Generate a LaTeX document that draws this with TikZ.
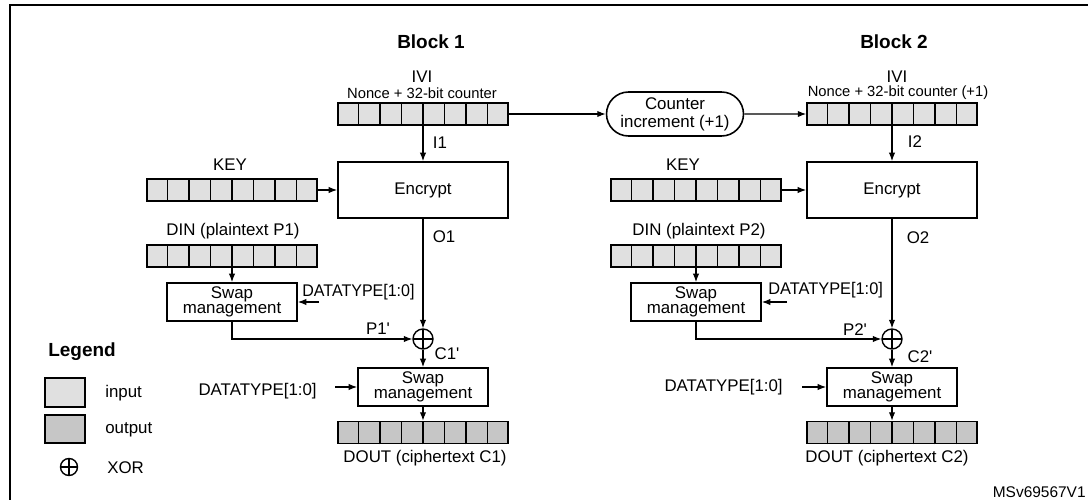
\documentclass[tikz,border=0pt]{standalone}
\usepackage{fontspec}
\setmainfont{Liberation Sans}
\usepackage{graphicx}
\usetikzlibrary{arrows.meta,calc,shapes.misc}
\definecolor{ingray}{RGB}{224,224,224}
\definecolor{outgray}{RGB}{198,198,198}
\newcommand{\dtype}[1][1]{\scalebox{#1}[1]{DATATYPE[1:0]}}

\begin{document}
\begin{tikzpicture}[x=0.02cm,y=-0.02cm,>={Latex[length=4.8pt,width=3.6pt]},
	txt/.style={inner sep=0pt,font=\fontsize{9.6}{10}\selectfont},
	small/.style={inner sep=0pt,font=\fontsize{8.4}{9}\selectfont},
	heading/.style={inner sep=0pt,font=\fontsize{10.8}{12}\selectfont\bfseries},
	reg/.style={draw,line width=0.9pt,inner sep=0pt,minimum width=3.4cm,minimum height=0.44cm},
	inreg/.style={reg,fill=ingray},
	outreg/.style={reg,fill=outgray},
	encbox/.style={draw,line width=1pt,minimum width=3.4cm,minimum height=1.12cm,txt},
	swapbox/.style={draw,line width=1pt,align=center,minimum width=2.6cm,minimum height=0.76cm,txt,font=\fontsize{9.6}{8.7}\selectfont},
	xorsym/.style={draw,circle,line width=0.8pt,inner sep=0pt,minimum size=0.4cm,
		path picture={\draw[line width=0.8pt] (path picture bounding box.north) -- (path picture bounding box.south)
			(path picture bounding box.west) -- (path picture bounding box.east);}},
	link/.style={->,line width=0.6pt}]
	\useasboundingbox (0,0) rectangle (1088,500);
	\draw[line width=1.4pt] (10,500) -- (10,5) -- (1088,5);
	
	% Block 1
	\node[heading] (blk1) at (431,42) {Block 1};
	\node[txt] (ivlab1) at (422,77) {IVI};
	\node[small] (ivsub1) at (422,93) {Nonce + 32-bit counter};
	\node[inreg] (iv1) at (423,114) {};
	\node[encbox] (enc1) at (423,190) {Encrypt};
	\node[txt] (keylab1) at (230,165) {KEY};
	\node[inreg] (key1) at (232,190) {};
	\node[txt] (dinlab1) at (233,231) {DIN (plaintext P1)};
	\node[inreg] (din1) at (232,256) {};
	\node[swapbox] (swp1) at (232,302) {Swap\\management};
	\node[txt,anchor=west] (dt1) at (302,292) {\dtype[0.95]};
	\coordinate (dt1in) at (319,302);
	\node[xorsym] (xor1) at (423,339) {};
	\node[swapbox] (swo1) at (423,387) {Swap\\management};
	\node[txt,anchor=east] (dt3) at (317,391) {\dtype};
	\coordinate (dt3in) at (335,387);
	\node[outreg] (dout1) at (423,432.5) {};
	\node[txt] (doutlab1) at (425,458) {DOUT (ciphertext C1)};
	\node[txt] (i1) at (440,143) {I1};
	\node[txt] (o1) at (444,237) {O1};
	\node[txt] (p1) at (378,329) {P1\textquotesingle};
	\node[txt] (c1) at (447,354) {C1\textquotesingle};
	
	% Counter
	\node[draw,rounded rectangle,line width=0.9pt,minimum width=2.74cm,minimum height=0.88cm,inner sep=0pt,
		align=center,font=\fontsize{9.6}{10.2}\selectfont] (cnt) at (675,114) {Counter\\increment (+1)};
	
	% Block 2
	\node[heading] (blk2) at (894,42) {Block 2};
	\node[txt] (ivlab2) at (897,77) {IVI};
	\node[small] (ivsub2) at (898,93) {Nonce + 32-bit counter (+1)};
	\node[inreg] (iv2) at (892,114) {};
	\node[encbox] (enc2) at (892,190) {Encrypt};
	\node[txt] (keylab2) at (683,165) {KEY};
	\node[inreg] (key2) at (696,190) {};
	\node[txt] (dinlab2) at (699,231) {DIN (plaintext P2)};
	\node[inreg] (din2) at (696,256) {};
	\node[swapbox] (swp2) at (696,302) {Swap\\management};
	\node[txt,anchor=west] (dt2) at (768,290) {\dtype[0.97]};
	\coordinate (dt2in) at (787,302);
	\node[xorsym] (xor2) at (892,339) {};
	\node[swapbox] (swo2) at (892,387) {Swap\\management};
	\node[txt,anchor=east] (dt4) at (783,387) {\dtype};
	\coordinate (dt4in) at (802,387);
	\node[outreg] (dout2) at (892,432.5) {};
	\node[txt] (doutlab2) at (887,458) {DOUT (ciphertext C2)};
	\node[txt] (i2) at (915,142) {I2};
	\node[txt] (o2) at (918,238) {O2};
	\node[txt] (p2) at (855,330) {P2\textquotesingle};
	\node[txt] (c2) at (920,357) {C2\textquotesingle};
	
	% Cells
	\foreach \r in {iv1,iv2,key1,key2,din1,din2,dout1,dout2}
		\foreach \i in {1,...,7}
			\draw[line width=0.9pt] ($(\r.south west)!\i/8!(\r.south east)$) -- ($(\r.north west)!\i/8!(\r.north east)$);
	
	% Connectors
	\draw[link] (iv1) -- (cnt);
	\draw[link] (cnt) -- (iv2);
	\foreach \n in {1,2} {
		\draw[link] (iv\n) -- (enc\n);
		\draw[link] (key\n) -- (enc\n);
		\draw[link] (din\n) -- (swp\n);
		\draw[link] (enc\n) -- (xor\n);
		\draw[link] (swp\n.south) |- (xor\n.west);
		\draw[link] (xor\n) -- (swo\n);
		\draw[link] (swo\n) -- (dout\n);
	}
	\draw[link] (dt1in) -- (swp1.east);
	\draw[link] (dt2in) -- (swp2.east);
	\draw[link] (dt3in) -- (swo1.west);
	\draw[link] (dt4in) -- (swo2.west);
	
	% Legend
	\node[heading] (leg) at (82,352) {Legend};
	\node[draw,line width=0.9pt,fill=ingray,minimum width=0.8cm,minimum height=0.58cm,inner sep=0pt] (legin) at (65,392.5) {};
	\node[txt,anchor=west] (legintxt) at (105,393) {input};
	\node[draw,line width=0.9pt,fill=outgray,minimum width=0.8cm,minimum height=0.56cm,inner sep=0pt] (legout) at (65,429) {};
	\node[txt,anchor=west] (legouttxt) at (105,430) {output};
	\node[xorsym,minimum size=0.34cm] (legxor) at (69,467) {};
	\node[txt,anchor=west] (legxortxt) at (107,468) {XOR};
	
	\node[inner sep=0pt,anchor=east,font=\fontsize{8.8}{9}\selectfont] (ref) at (1086,492) {MSv69567V1};
\end{tikzpicture}
\end{document}
